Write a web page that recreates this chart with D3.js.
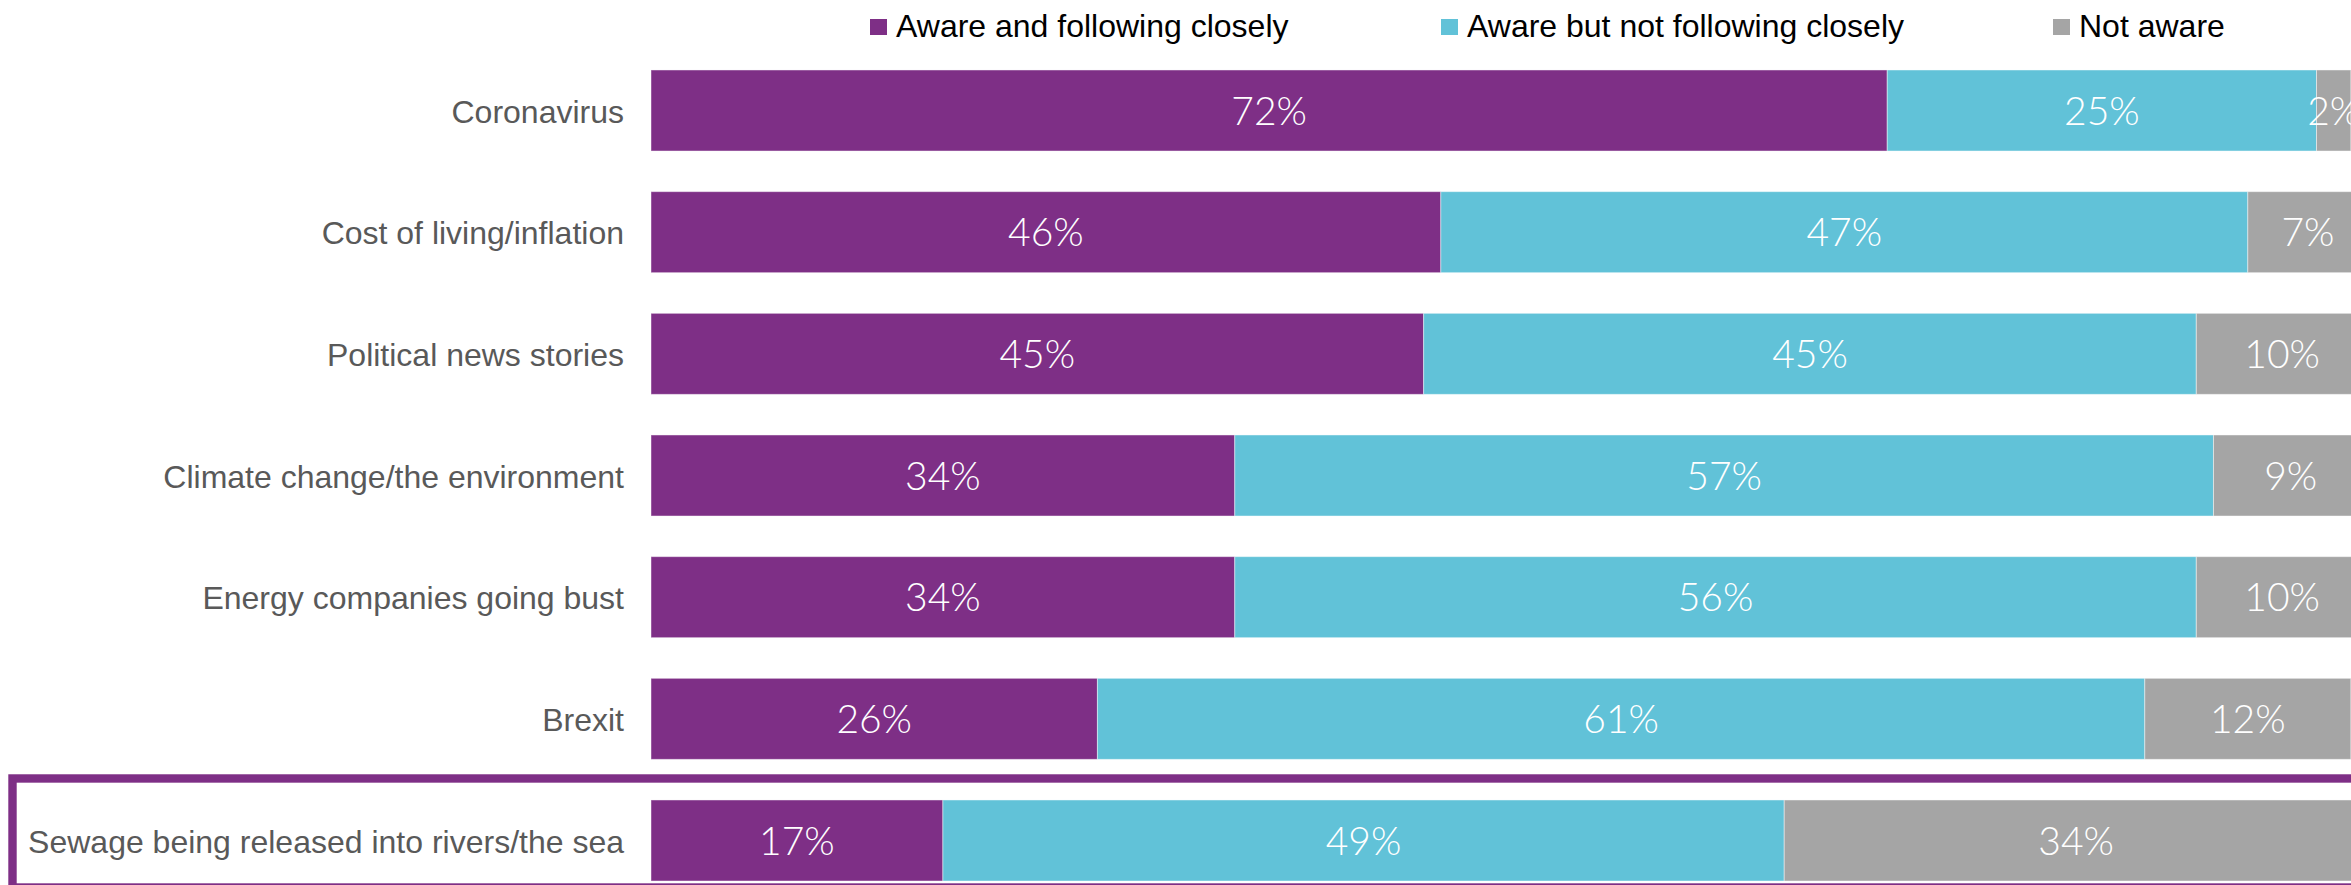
<!DOCTYPE html>
<html>
<head>
<meta charset="utf-8">
<script src="https://cdn.jsdelivr.net/npm/d3@7"></script>
<style>
  html, body { margin: 0; padding: 0; background: #ffffff; }
  svg { display: block; }
</style>
</head>
<body>
<svg id="chart" width="2351" height="885"></svg>
<script>
// Awareness of news topics (% of respondents)
const categories = [
  "Coronavirus",
  "Cost of living/inflation",
  "Political news stories",
  "Climate change/the environment",
  "Energy companies going bust",
  "Brexit",
  "Sewage being released into rivers/the sea"
];
const seriesNames = ["Aware and following closely", "Aware but not following closely", "Not aware"];
const followingClosely    = [72, 46, 45, 34, 34, 26, 17];
const notFollowingClosely = [25, 47, 45, 57, 56, 61, 49];
const notAware            = [2, 7, 10, 9, 10, 12, 34];
const highlighted = "Sewage being released into rivers/the sea";

const colors = ["#7e2f86", "#61c2d8", "#a5a5a5"];

const svg = d3.select("#chart");
const W = 2351, H = 885;

const x = d3.scaleLinear().domain([0, 100]).range([651, 2368]);
const y = d3.scaleBand().domain(categories).range([49.67, 901.33])
  .paddingInner(0.334).paddingOuter(0.167);

const rows = categories.map((c, i) => ({
  category: c,
  [seriesNames[0]]: followingClosely[i],
  [seriesNames[1]]: notFollowingClosely[i],
  [seriesNames[2]]: notAware[i]
}));
const stacked = d3.stack().keys(seriesNames)(rows);

// Highlight frame around the last row
const hy = y(highlighted);
svg.append("rect")
  .attr("x", 12.5)
  .attr("y", hy - 21.5)
  .attr("width", W + 20)
  .attr("height", y.bandwidth() + 28)
  .attr("fill", "none")
  .attr("stroke", colors[0])
  .attr("stroke-width", 8.4);

// Bars
const layers = svg.append("g").selectAll("g")
  .data(stacked)
  .join("g")
  .attr("fill", (d, i) => colors[i]);

layers.selectAll("rect")
  .data(d => d)
  .join("rect")
  .attr("x", d => x(d[0]))
  .attr("y", d => y(d.data.category))
  .attr("width", d => x(d[1]) - x(d[0]))
  .attr("height", y.bandwidth())
  .attr("stroke", "#ffffff")
  .attr("stroke-opacity", 0.45)
  .attr("stroke-width", 1);

// Value labels inside segments
const valueFont = 39;
layers.selectAll("text")
  .data(d => d.map(v => ({ v, key: d.key })))
  .join("text")
  .attr("x", d => (x(d.v[0]) + x(d.v[1])) / 2)
  .attr("y", d => y(d.v.data.category) + y.bandwidth() / 2 + valueFont * 0.36)
  .attr("text-anchor", "middle")
  .attr("fill", "#ffffff")
  .style("font-family", "Lato, 'Open Sans', sans-serif")
  .style("font-weight", 300)
  .style("font-size", valueFont + "px")
  .text(d => (d.v[1] - d.v[0]) + "%");

// Category axis
const yAxis = d3.axisLeft(y).tickSize(0).tickPadding(27);
const axisG = svg.append("g")
  .attr("transform", "translate(651,0)")
  .call(yAxis);
axisG.select(".domain").remove();
axisG.selectAll("text")
  .attr("fill", "#595959")
  .style("font-family", "'Liberation Sans', Arial, sans-serif")
  .style("font-size", "32px")
  .attr("dy", "0.38em");

// Legend
const legendX = [870, 1441, 2053];
const legend = svg.append("g").selectAll("g")
  .data(seriesNames)
  .join("g")
  .attr("transform", (d, i) => `translate(${legendX[i]},0)`);
legend.append("rect")
  .attr("x", 0).attr("y", 19)
  .attr("width", 17).attr("height", 16)
  .attr("fill", (d, i) => colors[i]);
legend.append("text")
  .attr("x", 26).attr("y", 37)
  .attr("fill", "#000000")
  .style("font-family", "'Liberation Sans', Arial, sans-serif")
  .style("font-size", "32px")
  .text(d => d);
</script>
</body>
</html>
